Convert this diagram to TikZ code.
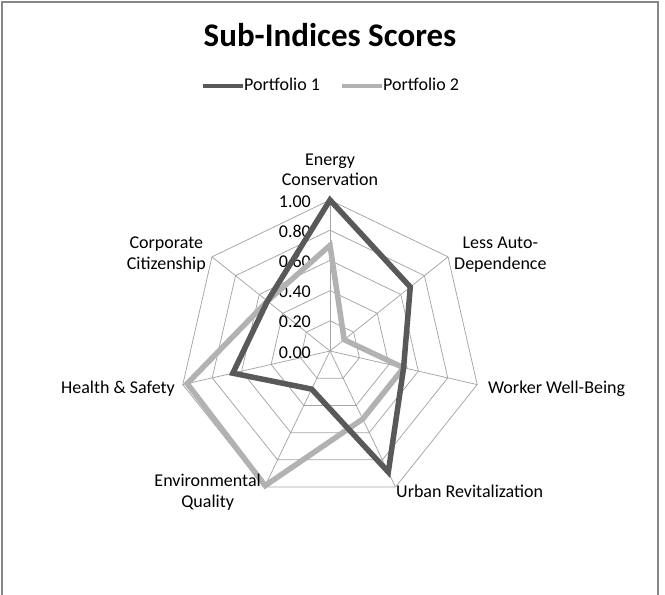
\documentclass[tikz,border=0pt]{standalone}
\usepackage{fontspec}
\setmainfont{Carlito}
\usetikzlibrary{positioning}

\definecolor{gridgray}{RGB}{165,165,165}
\definecolor{framegray}{RGB}{134,134,134}
\definecolor{pfdark}{RGB}{89,89,89}
\definecolor{pflight}{RGB}{178,178,178}

\tikzset{
  gridline/.style={gridgray, line width=0.75pt},
  series/.style={line width=5.5pt, line join=miter},
  legline/.style={line width=4pt},
  axlabel/.style={font=\fontsize{18}{20.5}\selectfont, align=center, inner sep=0pt},
  ticklabel/.style={font=\fontsize{18}{20}\selectfont, inner sep=0pt},
}

\begin{document}
\begin{tikzpicture}[x=1pt, y=1pt]
\useasboundingbox (0,0) rectangle (665,-595);
\draw[framegray, line width=2pt] (1.5,-600) -- (1.5,-1.5) -- (657.5,-1.5) -- (657.5,-600);

% title and legend
\node[font=\bfseries\fontsize{33}{40}\selectfont, inner sep=0pt, anchor=base] (title) at (330,-46.7) {Sub-Indices Scores};

\coordinate (leg1a) at (203,-86);
\coordinate (leg1b) at (243,-86);
\draw[legline, pfdark] (leg1a) -- (leg1b);
\node[ticklabel, anchor=base west] (leg1) at (244,-90.7) {Portfolio 1};

\coordinate (leg2a) at (342,-86);
\coordinate (leg2b) at (382,-86);
\draw[legline, pflight] (leg2a) -- (leg2b);
\node[ticklabel, anchor=base west] (leg2) at (383,-90.7) {Portfolio 2};

\begin{scope}[shift={(330,-351)}]
  % web
  \foreach \k in {1,...,5}{
      \draw[gridline] (90:{\k*30.2}) \foreach \i in {1,...,6}{ -- ({90-\i*360/7}:{\k*30.2})} -- cycle;
    }
  \foreach \i in {0,...,6}{
      \draw[gridline] (0,0) -- ({90-\i*360/7}:151);
    }

  % scale
  \foreach \k/\t in {0/0.00,1/0.20,2/0.40,3/0.60,4/0.80,5/1.00}{
      \node[ticklabel, anchor=base east] (tick\k) at (-19,{\k*30.2-7}) {\t};
    }

  % series
  \draw[series, pflight] (90:{0.70*151}) \foreach \v [count=\i] in {0.12,0.50,0.50,0.99,0.97,0.53}{ -- ({90-\i*360/7}:{\v*151})} -- cycle;
  \draw[series, pfdark] (90:{1.00*151}) \foreach \v [count=\i] in {0.68,0.50,0.89,0.28,0.66,0.53}{ -- ({90-\i*360/7}:{\v*151})} -- cycle;
\end{scope}

% axis labels
\node[axlabel, anchor=south] (energy) at (330,-186) {Energy\\Conservation};
\node[axlabel, anchor=west] (auto) at (454,-254.5) {Less Auto-\\Dependence};
\node[axlabel, anchor=base west] (worker) at (488,-393) {Worker Well-Being};
\node[axlabel, anchor=base west] (urban) at (396,-497.7) {Urban Revitalization};
\node[axlabel, anchor=east] (environ) at (261,-492.3) {Environmental\\Quality};
\node[axlabel, anchor=base east] (health) at (175,-393) {Health \& Safety};
\node[axlabel, anchor=east] (corporate) at (206,-254.5) {Corporate\\Citizenship};

\end{tikzpicture}
\end{document}
